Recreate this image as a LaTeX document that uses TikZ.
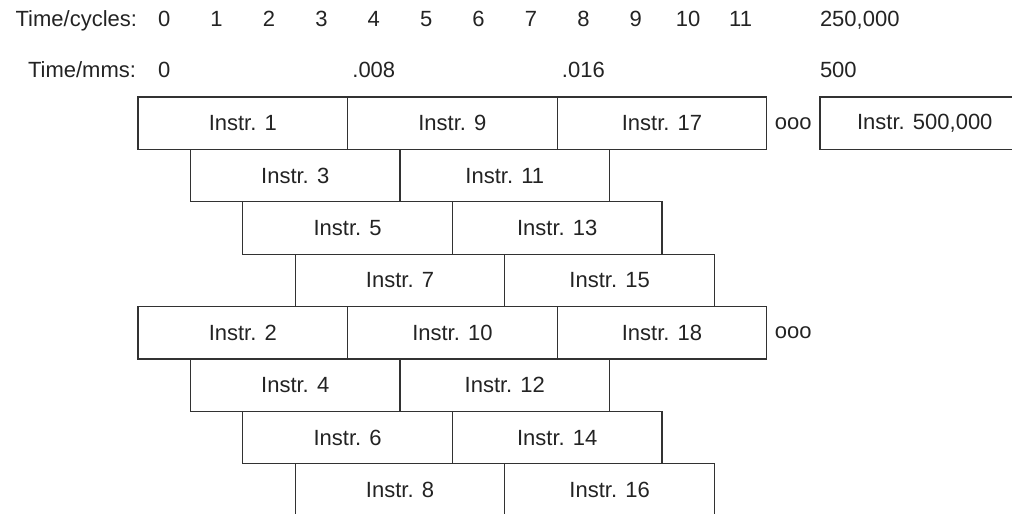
\documentclass[tikz,border=0pt]{standalone}
\usepackage{fontspec}
\setmainfont{Liberation Sans}
\usetikzlibrary{positioning}
\definecolor{edgegray}{RGB}{50,50,50}
\definecolor{labelgray}{RGB}{35,35,35}

\begin{document}
\begin{tikzpicture}[x=1pt, y=-1pt,
  every node/.style={font=\fontsize{22}{26}\selectfont, text=labelgray},
  instr/.style={draw=edgegray, line width=1.2pt, rectangle, anchor=north west,
    minimum width=209.6pt, minimum height=52.4pt, inner sep=0pt, outer sep=0pt},
  tick/.style={inner sep=0pt, outer sep=0pt, anchor=base}]
  % one cycle = 52.4 px, in both directions
  \def\cyc{52.4}
  \def\xo{138}
  \def\yo{97}
  \useasboundingbox (0,0) rectangle (1012,514);

  % time axes
  \node[tick, anchor=base east] (cyclbl) at (137,27) {Time/cycles:};
  \foreach \k in {0,...,11}{
    \node[tick] (cyc\k) at ({\xo+(\k+0.5)*\cyc},27) {\k};
  }
  \node[tick, anchor=base west] (cycend) at (820,27) {250,000};

  \node[tick, anchor=base east] (mslbl) at (136,77) {Time/mms:};
  \node[tick] (ms0) at ({\xo+0.5*\cyc},77) {0};
  \node[tick] (ms4) at ({\xo+4.5*\cyc},77) {.008};
  \node[tick] (ms8) at ({\xo+8.5*\cyc},77) {.016};
  \node[tick, anchor=base west] (msend) at (820,77) {500};

  % first bank: odd instructions
  \foreach \r in {0,...,3}{
    \pgfmathtruncatemacro{\na}{2*\r+1}
    \pgfmathtruncatemacro{\nb}{2*\r+9}
    \node[instr] (i\na) at ({\xo+\r*\cyc},{\yo+\r*\cyc}) {Instr. \na};
    \node[instr, right=0pt of i\na] (i\nb) {Instr. \nb};
  }
  \node[instr, right=0pt of i9] (i17) {Instr. 17};
  \node[inner sep=0pt, outer sep=0pt, right=8pt of i17] (dotsa) {ooo};
  \node[instr] (i500000) at (820,\yo) {Instr. 500,000};

  % second bank: even instructions
  \foreach \r in {0,...,3}{
    \pgfmathtruncatemacro{\na}{2*\r+2}
    \pgfmathtruncatemacro{\nb}{2*\r+10}
    \node[instr] (i\na) at ({\xo+\r*\cyc},{\yo+(\r+4)*\cyc}) {Instr. \na};
    \node[instr, right=0pt of i\na] (i\nb) {Instr. \nb};
  }
  \node[instr, right=0pt of i10] (i18) {Instr. 18};
  \node[inner sep=0pt, outer sep=0pt, right=8pt of i18] (dotsb) {ooo};
\end{tikzpicture}
\end{document}
